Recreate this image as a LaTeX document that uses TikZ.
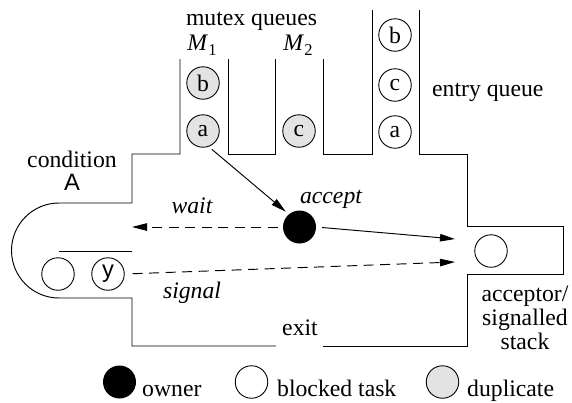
\documentclass[tikz,border=0pt]{standalone}
\usepackage{fontspec}
\setmainfont{Liberation Serif}
\newfontfamily\helv{Liberation Sans}
\usetikzlibrary{arrows.meta}
\newcommand{\fsz}{\fontsize{23.7}{27}\selectfont}
\newcommand{\Msub}[1]{\textit{M}\raisebox{-0.22em}{\fontsize{16.5}{18}\selectfont #1}}
\begin{document}
\begin{tikzpicture}[x=1pt,y=-1pt,
  every node/.append style={font=\fsz},
  wall/.style={line width=0.95pt, line join=miter},
  task/.style={circle, draw, line width=0.9pt, minimum size=32.5pt, inner sep=0pt},
  dup/.style={task, fill=black!11},
  ownerdot/.style={circle, fill=black, minimum size=33pt, inner sep=0pt},
  flow/.style={line width=0.95pt, -{Triangle[length=15pt,width=7.5pt]}},
  dashflow/.style={flow, dash pattern=on 10pt off 6.5pt},
  lbl/.style={anchor=base, inner sep=0pt},
  emph/.style={lbl, font=\fsz\itshape},
]
\useasboundingbox (0,0) rectangle (572,402);

% monitor outline: condition lobe, exit and acceptor/signalled stack
\draw[wall] (180,59) -- (180,154) -- (132,154) -- (132,203) -- (59,203)
  arc[start angle=270, end angle=90, radius=47.5] -- (132,298) -- (132,346) -- (276,346);
\draw[wall] (323,346) -- (467,346) -- (467,274) -- (563,274) -- (563,226)
  -- (467,226) -- (467,154) -- (419,154) -- (419,10);
% entry queue and mutex queues
\draw[wall] (372,10) -- (372,154) -- (323,154) -- (323,59);
\draw[wall] (275,59) -- (275,154) -- (228,154) -- (228,59);
% condition queue divider
\draw[wall] (59,251) -- (132,251);

% tasks in the queues
\node[dup] (m1b) at (203,83) {b};
\node[dup] (m1a) at (203,131) {a};
\node[dup] (m2c) at (299,131) {c};
\node[task] (eb) at (395,35) {b};
\node[task] (ec) at (395,85) {c};
\node[task] (ea) at (395,132) {a};
\node[ownerdot] (owner) at (299.5,227) {};
\node[task] (acc) at (491,251) {};
\node[task] (cw) at (58,274) {};
\node[task, font=\helv\fsz] (cy) at (108,274) {y};

% arrow ends at the walls
\coordinate (waitend) at (132,227);
\coordinate (accin) at (455,239);
\coordinate (sigin) at (455,262);

% transitions
\draw[flow, shorten <=4pt, shorten >=4pt] (m1a.-70) -- (owner.130);
\draw[dashflow, shorten <=5pt] (owner.west) -- (waitend);
\draw[flow, shorten <=6pt] (owner.east) -- (accin);
\draw[dashflow, shorten <=8pt] (cy.east) -- (sigin);

% labels
\node[lbl] (tmutex) at (251.5,25) {mutex queues};
\node[lbl] (tm1) at (202,50) {\Msub{1}};
\node[lbl] (tm2) at (298,50) {\Msub{2}};
\node[lbl, anchor=base west] (tentry) at (432,96) {entry queue};
\node[lbl] (tcond) at (72,167) {condition};
\node[lbl, font=\helv\fsz] (tA) at (72,190) {A};
\node[emph] (twait) at (192,213) {wait};
\node[emph] (taccept) at (331,203) {accept};
\node[emph] (tsignal) at (192,298) {signal};
\node[lbl] (texit) at (300,335) {exit};
\node[lbl] (tacc1) at (525,301) {acceptor/};
\node[lbl] (tacc2) at (525,325) {signalled};
\node[lbl] (tacc3) at (525,349) {stack};

% legend
\node[ownerdot] (lgo) at (119.5,382) {};
\node[lbl, anchor=base west] (tlgo) at (142,396) {owner};
\node[task] (lgb) at (251.5,382) {};
\node[lbl, anchor=base west] (tlgb) at (277,396) {blocked task};
\node[dup] (lgd) at (442.5,382) {};
\node[lbl, anchor=base west] (tlgd) at (467,396) {duplicate};
\end{tikzpicture}
\end{document}
